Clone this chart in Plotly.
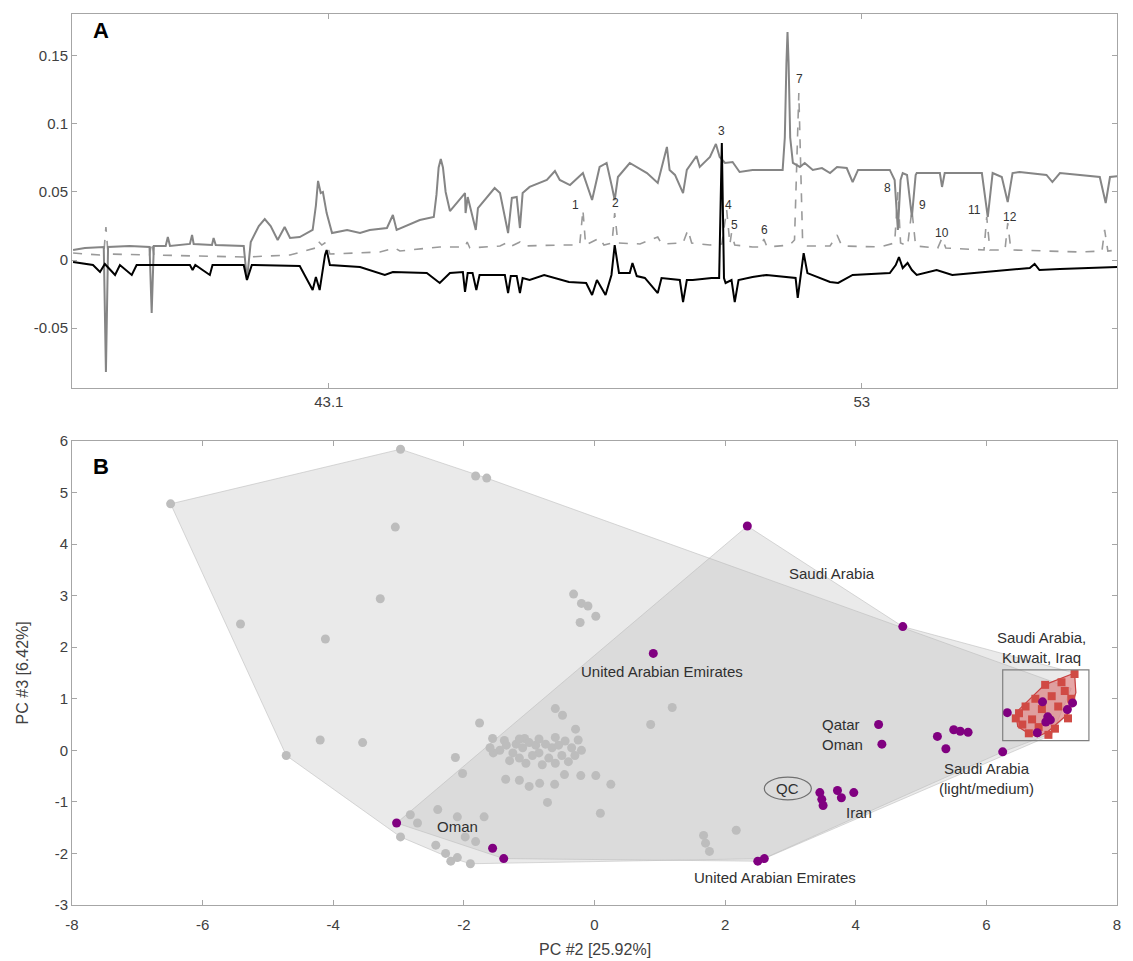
import plotly.graph_objects as go

# ---------------- Panel A: spectra ----------------
# mean spectrum (solid grey)
mean_x = [38.35, 38.57, 38.92, 38.96, 39.00, 39.40, 39.77, 39.81, 39.85, 40.07, 40.11, 40.15,
          40.52, 40.56, 40.59, 40.93, 40.96, 41.00, 41.52, 41.58, 41.65, 41.80, 41.91, 42.02,
          42.15, 42.28, 42.38, 42.56, 42.80, 42.86, 42.90, 42.95, 42.99, 43.06, 43.16, 43.44,
          43.68, 43.86, 44.18, 44.29, 44.36, 44.79, 45.05, 45.10, 45.14, 45.18, 45.22, 45.27,
          45.35, 45.57, 45.63, 45.64, 45.68, 45.83, 45.87, 46.18, 46.28, 46.43, 46.50, 46.59,
          46.65, 46.70, 46.83, 47.15, 47.30, 47.39, 47.58, 47.82, 47.99, 48.13, 48.26, 48.36,
          48.41, 48.47, 48.69, 49.01, 49.21, 49.38, 49.43, 49.53, 49.68, 49.75, 49.93, 49.99,
          50.18, 50.29, 50.36, 50.46, 50.60, 50.73, 50.97, 51.53, 51.57, 51.60, 51.62, 51.64,
          51.67, 51.72, 51.85, 51.94, 52.09, 52.26, 52.41, 52.54, 52.72, 52.83, 52.93, 53.52,
          53.61, 53.67, 53.72, 53.76, 53.84, 53.93, 54.00, 54.02, 54.45, 54.49, 54.54, 55.23,
          55.34, 55.43, 55.60, 55.71, 55.80, 55.93, 56.43, 56.54, 56.68, 57.42, 57.53, 57.61,
          57.76]
mean_y = [0.0074, 0.0088, 0.0096, -0.0823, 0.0096, 0.0103, 0.0096, -0.0390, 0.0103, 0.0103, 0.0169, 0.0103,
          0.0118, 0.0184, 0.0118, 0.0110, 0.0162, 0.0110, 0.0103, -0.0147, 0.0132, 0.0250, 0.0301, 0.0250,
          0.0147, 0.0243, 0.0162, 0.0169, 0.0221, 0.0400, 0.0581, 0.0492, 0.0500, 0.0345, 0.0198, 0.0221,
          0.0198, 0.0221, 0.0235, 0.0331, 0.0221, 0.0294, 0.0316, 0.0480, 0.0680, 0.0742, 0.0680, 0.0500,
          0.0360, 0.0463, 0.0492, 0.0345, 0.0463, 0.0221, 0.0382, 0.0529, 0.0492, 0.0198, 0.0456, 0.0463,
          0.0235, 0.0492, 0.0537, 0.0588, 0.0654, 0.0588, 0.0551, 0.0639, 0.0441, 0.0684, 0.0713, 0.0537,
          0.0441, 0.0610, 0.0713, 0.0639, 0.0566, 0.0831, 0.0662, 0.0625, 0.0492, 0.0662, 0.0764, 0.0684,
          0.0757, 0.0853, 0.0757, 0.0713, 0.0720, 0.0647, 0.0662, 0.0662, 0.0900, 0.1450, 0.1676, 0.1450,
          0.0900, 0.0713, 0.0684, 0.0713, 0.0662, 0.0676, 0.0639, 0.0684, 0.0676, 0.0573, 0.0662, 0.0662,
          0.0588, 0.0221, 0.0588, 0.0639, 0.0625, 0.0316, 0.0625, 0.0639, 0.0639, 0.0537, 0.0639, 0.0639,
          0.0316, 0.0639, 0.0610, 0.0426, 0.0639, 0.0647, 0.0625, 0.0573, 0.0639, 0.0610, 0.0419, 0.0610,
          0.0617]

# loadings (dashed grey)
load_x = [38.35, 38.85, 38.92, 38.96, 39.00, 39.77, 39.81, 39.85, 40.70, 41.58, 42.38, 42.85,
          42.90, 42.97, 43.05, 43.12, 44.05, 44.33, 44.42, 45.16, 45.63, 45.67, 45.72, 46.28,
          46.43, 46.50, 46.65, 46.72, 47.39, 47.76, 47.82, 47.87, 48.13, 48.21, 48.36, 48.41,
          48.47, 48.88, 49.21, 49.28, 49.68, 49.77, 49.84, 50.18, 50.40, 50.49, 50.55, 50.58,
          50.64, 50.97, 51.13, 51.18, 51.24, 51.66, 51.75, 51.83, 51.90, 51.99, 52.41, 52.54,
          52.63, 53.33, 53.61, 53.67, 53.72, 53.85, 53.93, 54.00, 54.41, 54.49, 54.56, 55.27,
          55.32, 55.38, 55.66, 55.71, 55.77, 57.05, 57.46, 57.51, 57.57, 57.76]
load_y = [0.0051, 0.0037, 0.0044, 0.0243, 0.0044, 0.0037, 0.0132, 0.0037, 0.0029, 0.0022, 0.0037, 0.0088,
          0.0140, 0.0110, 0.0132, 0.0044, 0.0059, 0.0088, 0.0066, 0.0096, 0.0096, 0.0132, 0.0088, 0.0103,
          0.0132, 0.0103, 0.0132, 0.0103, 0.0110, 0.0110, 0.0368, 0.0110, 0.0162, 0.0110, 0.0125, 0.0345,
          0.0125, 0.0118, 0.0169, 0.0118, 0.0125, 0.0221, 0.0125, 0.0110, 0.0118, 0.0368, 0.0118, 0.0198,
          0.0110, 0.0096, 0.0096, 0.0154, 0.0096, 0.0110, 0.0147, 0.1228, 0.0147, 0.0103, 0.0103, 0.0184,
          0.0103, 0.0096, 0.0125, 0.0500, 0.0125, 0.0103, 0.0368, 0.0103, 0.0088, 0.0162, 0.0088, 0.0074,
          0.0316, 0.0074, 0.0074, 0.0272, 0.0074, 0.0059, 0.0066, 0.0221, 0.0066, 0.0074]

# regression vector (solid black)
reg_x = [38.35, 38.48, 38.72, 38.85, 38.94, 39.13, 39.22, 39.44, 39.53, 40.52, 40.57, 40.62,
         40.89, 40.94, 41.52, 41.58, 41.67, 42.56, 42.80, 42.86, 42.93, 43.03, 43.06, 43.12,
         43.68, 44.14, 44.29, 44.92, 45.16, 45.35, 45.59, 45.63, 45.68, 45.77, 45.84, 45.90,
         46.00, 46.37, 46.43, 46.48, 46.59, 46.65, 46.70, 46.83, 47.10, 47.56, 47.88, 47.99,
         48.08, 48.24, 48.35, 48.41, 48.49, 48.69, 48.74, 48.82, 48.97, 49.21, 49.28, 49.62,
         49.68, 49.75, 49.86, 50.21, 50.35, 50.40, 50.44, 50.47, 50.58, 50.64, 50.71, 50.97,
         51.23, 51.59, 51.77, 51.81, 51.86, 51.92, 51.99, 52.41, 52.56, 52.83, 53.52, 53.63,
         53.69, 53.76, 53.85, 53.93, 54.02, 54.39, 54.68, 55.80, 56.12, 56.21, 56.30, 56.68,
         57.76]
reg_y = [-0.0015, -0.0022, -0.0037, -0.0088, -0.0029, -0.0110, -0.0037, -0.0110, -0.0037, -0.0037, -0.0074, -0.0037,
         -0.0110, -0.0037, -0.0037, -0.0147, -0.0037, -0.0044, -0.0221, -0.0125, -0.0221, 0.0037, 0.0074, -0.0037,
         -0.0051, -0.0110, -0.0088, -0.0096, -0.0169, -0.0096, -0.0088, -0.0235, -0.0096, -0.0096, -0.0221, -0.0110,
         -0.0110, -0.0110, -0.0243, -0.0118, -0.0118, -0.0243, -0.0132, -0.0147, -0.0110, -0.0162, -0.0169, -0.0257,
         -0.0147, -0.0257, -0.0110, 0.0110, -0.0096, -0.0096, -0.0022, -0.0118, -0.0132, -0.0243, -0.0132, -0.0147,
         -0.0309, -0.0147, -0.0147, -0.0132, -0.0132, 0.0860, -0.0132, -0.0169, -0.0147, -0.0309, -0.0147, -0.0125,
         -0.0110, -0.0125, -0.0132, -0.0279, -0.0110, 0.0051, -0.0096, -0.0162, -0.0169, -0.0110, -0.0096, -0.0037,
         0.0022, -0.0059, -0.0022, -0.0074, -0.0110, -0.0074, -0.0110, -0.0074, -0.0059, -0.0029, -0.0074, -0.0066,
         -0.0051]

peak_labels = ["1", "2", "3", "4", "5", "6", "7", "8", "9", "10", "11", "12"]
peak_lx = [47.69, 48.43, 50.40, 50.53, 50.64, 51.20, 51.85, 53.48, 54.13, 54.49, 55.10, 55.75]
peak_ly = [0.0404, 0.0419, 0.0948, 0.0404, 0.0257, 0.0221, 0.1330, 0.0529, 0.0404, 0.0198, 0.0368, 0.0316]

a_xticks = [43.1, 53]
a_xticktext = ["43.1", "53"]
a_yticks = [-0.05, 0, 0.05, 0.1, 0.15]
a_yticktext = ["-0.05", "0", "0.05", "0.1", "0.15"]

# ---------------- Panel B: PCA scores ----------------
other_pc2 = [-6.49, -2.97, -1.82, -1.65, -3.05, -3.28, -5.42, -4.12, -0.32, -0.20, -0.10, 0.02,
             -0.22, -1.76, -4.20, -3.55, -4.72, 0.86, 1.19, -0.60, -0.49, -0.29, -1.56, -1.38,
             -1.07, -2.13, -2.02,
             -1.45, -1.35, -1.25, -1.20, -1.10, -1.00, -0.90, -0.85, -0.75, -0.65, -0.55, -0.45,
             -0.35, -0.30, -0.50, -0.70, -0.95, -1.15, -1.30, -1.05, -0.80, -0.60, -0.40, -1.55,
             -1.60, -0.20, -0.25, -0.85, -1.15, -0.60,
             -1.36, -1.15, -1.00, -0.84, -0.61, -0.46, -0.21, 0.02, 0.25, -0.72, 0.09,
             -2.40, -2.10, -1.69, -2.82, -2.71, -2.97, -2.43, -2.28, -1.98, -1.82,
             1.67, 1.70, 1.76, 2.17, -2.20, -1.90, -2.10]
other_pc3 = [4.78, 5.84, 5.32, 5.28, 4.33, 2.94, 2.45, 2.16, 3.03, 2.85, 2.80, 2.60,
             2.48, 0.53, 0.20, 0.15, -0.10, 0.50, 0.83, 0.81, 0.68, 0.41, 0.23, 0.19,
             0.23, -0.14, -0.45,
             0.00, 0.10, -0.05, 0.12, 0.05, 0.15, 0.10, -0.05, 0.12, 0.05, 0.10, 0.18,
             0.05, -0.10, -0.10, -0.15, -0.10, -0.15, -0.20, -0.25, -0.28, -0.25, -0.22, -0.05,
             0.05, 0.00, 0.20, 0.22, 0.22, 0.25,
             -0.56, -0.58, -0.70, -0.64, -0.66, -0.47, -0.49, -0.49, -0.66, -1.01, -1.22,
             -1.15, -1.29, -1.29, -1.25, -1.41, -1.68, -1.84, -2.00, -1.68, -1.77,
             -1.65, -1.80, -1.96, -1.55, -2.15, -2.20, -2.08]

me_pc2 = [0.90, 2.34, 4.72, 4.35, 4.40, 5.25, 5.38, 5.50, 5.60, 5.72, 6.25,
          3.45, 3.48, 3.50, 3.72, 3.78, 3.97, 2.50, 2.60, -3.03, -1.56, -1.39,
          6.32, 6.86, 7.32, 7.24, 6.94, 6.98, 6.91, 6.78]
me_pc3 = [1.88, 4.35, 2.40, 0.50, 0.12, 0.27, 0.03, 0.40, 0.37, 0.35, -0.03,
          -0.82, -0.95, -1.07, -0.78, -0.92, -0.82, -2.15, -2.10, -1.41, -1.90, -2.10,
          0.73, 0.94, 0.92, 0.79, 0.65, 0.59, 0.55, 0.34]

ref_pc2 = [7.35, 7.15, 6.90, 7.20, 7.00, 6.75, 7.30, 6.60, 6.85, 7.10, 6.50, 6.70, 7.25,
           6.55, 6.80, 7.05, 6.65, 6.95, 6.45]
ref_pc3 = [1.48, 1.32, 1.27, 1.15, 1.05, 1.00, 1.00, 0.85, 0.80, 0.85, 0.72, 0.60, 0.62,
           0.50, 0.45, 0.42, 0.33, 0.30, 0.62]

hull_all_pc2 = [-6.49, -2.97, -1.65, 7.30, 7.00, 2.60, -1.90, -2.28, -2.97, -4.72]
hull_all_pc3 = [4.78, 5.84, 5.28, 1.20, 0.30, -2.10, -2.20, -2.05, -1.68, -0.10]
hull_me_pc2 = [2.34, 4.72, 7.35, 7.37, 7.27, 6.94, 6.25, 2.60, 2.50, -1.39, -3.03]
hull_me_pc3 = [4.35, 2.40, 1.50, 1.12, 0.73, 0.30, -0.03, -2.10, -2.15, -2.10, -1.41]
hull_ref_pc2 = [7.35, 6.89, 6.45, 6.48, 6.63, 6.78, 6.94, 7.27, 7.37]
hull_ref_pc3 = [1.50, 1.27, 0.73, 0.46, 0.34, 0.26, 0.36, 0.73, 1.12]

region_text = ["Saudi Arabia", "Saudi Arabia,<br>Kuwait, Iraq", "United Arabian Emirates",
               "Qatar", "Oman", "Saudi Arabia<br>(light/medium)", "Iran", "Oman",
               "United Arabian Emirates"]
region_x = [3.64, 6.85, 1.04, 3.78, 3.80, 6.00, 4.05, -2.10, 2.76]
region_y = [3.42, 2.00, 1.52, 0.50, 0.12, -0.55, -1.20, -1.47, -2.47]

b_ticks_x = [-8, -6, -4, -2, 0, 2, 4, 6, 8]
b_ticks_y = [-3, -2, -1, 0, 1, 2, 3, 4, 5, 6]

FONT = "Liberation Sans, Arial, Helvetica, sans-serif"
AXIS_GREY = "#a6a6a6"
TEXT_GREY = "#404040"
TICK_FONT = dict(family=FONT, size=15, color=TEXT_GREY)

fig = go.Figure()

# spectra
fig.add_trace(go.Scatter(x=load_x, y=load_y, mode="lines", xaxis="x", yaxis="y",
                         line=dict(color="#9a9a9a", width=1.6, dash="dash")))
fig.add_trace(go.Scatter(x=mean_x, y=mean_y, mode="lines", xaxis="x", yaxis="y",
                         line=dict(color="#858585", width=2)))
fig.add_trace(go.Scatter(x=reg_x, y=reg_y, mode="lines", xaxis="x", yaxis="y",
                         line=dict(color="#000000", width=2)))
for t, px_, py_ in zip(peak_labels, peak_lx, peak_ly):
    fig.add_annotation(x=px_, y=py_, xref="x", yref="y", text=t, showarrow=False,
                       font=dict(family=FONT, size=12, color="#333333"))

# score plot: group hulls, samples, labels
hull_fill = "rgba(185,185,185,0.30)"
hull_line = dict(color="rgba(185,185,185,0.55)", width=1)
fig.add_trace(go.Scatter(x=hull_all_pc2 + hull_all_pc2[:1], y=hull_all_pc3 + hull_all_pc3[:1],
                         xaxis="x2", yaxis="y2", mode="lines", fill="toself",
                         fillcolor=hull_fill, line=hull_line))
fig.add_trace(go.Scatter(x=hull_me_pc2 + hull_me_pc2[:1], y=hull_me_pc3 + hull_me_pc3[:1],
                         xaxis="x2", yaxis="y2", mode="lines", fill="toself",
                         fillcolor=hull_fill, line=hull_line))
fig.add_trace(go.Scatter(x=other_pc2, y=other_pc3, mode="markers", xaxis="x2", yaxis="y2",
                         marker=dict(color="#bdbdbd", size=9, line=dict(width=0))))
fig.add_trace(go.Scatter(x=hull_ref_pc2 + hull_ref_pc2[:1], y=hull_ref_pc3 + hull_ref_pc3[:1],
                         xaxis="x2", yaxis="y2", mode="lines", fill="toself",
                         fillcolor="rgba(225,110,110,0.55)", line=dict(color="#c94040", width=1.2)))
fig.add_trace(go.Scatter(x=ref_pc2, y=ref_pc3, mode="markers", xaxis="x2", yaxis="y2",
                         marker=dict(color="#d04a44", size=8, symbol="square", line=dict(width=0))))
fig.add_trace(go.Scatter(x=me_pc2, y=me_pc3, mode="markers", xaxis="x2", yaxis="y2",
                         marker=dict(color="#800080", size=9, line=dict(width=0))))
for t, px_, py_ in zip(region_text, region_x, region_y):
    fig.add_annotation(x=px_, y=py_, xref="x2", yref="y2", text=t, showarrow=False,
                       font=dict(family=FONT, size=15, color="#303030"))

# QC marker and box around the reference group
fig.add_shape(type="circle", x0=2.6, x1=3.32, y0=-0.96, y1=-0.52, xref="x2", yref="y2",
              line=dict(color="#707070", width=1.2), fillcolor="rgba(0,0,0,0)")
fig.add_annotation(x=2.96, y=-0.74, xref="x2", yref="y2", text="QC", showarrow=False,
                   font=dict(family=FONT, size=15, color="#303030"))
fig.add_shape(type="rect", x0=6.25, x1=7.57, y0=0.19, y1=1.56, xref="x2", yref="y2",
              line=dict(color="#808080", width=1.2))

common = dict(showline=True, linecolor=AXIS_GREY, linewidth=1, mirror="ticks",
              ticks="inside", ticklen=5, tickcolor=AXIS_GREY, showgrid=False, zeroline=False,
              tickfont=TICK_FONT, automargin=False)

fig.update_layout(
    width=1133, height=961, showlegend=False, plot_bgcolor="white", paper_bgcolor="white",
    margin=dict(l=72, r=16, t=14, b=56),
    xaxis=dict(domain=[0, 1], anchor="y", range=[38.33, 57.74], tickvals=a_xticks,
               ticktext=a_xticktext, **common),
    yaxis=dict(domain=[0.5802, 1], anchor="x", range=[-0.0941, 0.1808], tickvals=a_yticks,
               ticktext=a_yticktext, **common),
    xaxis2=dict(domain=[0, 1], anchor="y2", range=[-8, 8], tickvals=b_ticks_x,
                ticktext=[str(v) for v in b_ticks_x], ticklabelstandoff=6, **common),
    yaxis2=dict(domain=[0, 0.5208], anchor="x2", range=[-3, 6], tickvals=b_ticks_y,
                ticktext=[str(v) for v in b_ticks_y], **common),
)

# axis titles of the score plot
fig.add_annotation(x=0.5, y=-0.0505, xref="paper", yref="paper", text="PC #2 [25.92%]",
                   showarrow=False, xanchor="center", yanchor="middle",
                   font=dict(family=FONT, size=16, color=TEXT_GREY))
fig.add_annotation(x=-0.0478, y=0.26, xref="paper", yref="paper", text="PC #3 [6.42%]",
                   showarrow=False, textangle=-90, xanchor="center", yanchor="middle",
                   font=dict(family=FONT, size=16, color=TEXT_GREY))

fig.add_annotation(x=0.018, y=0.998, xref="paper", yref="paper", text="<b>A</b>", showarrow=False,
                   xanchor="left", yanchor="top", font=dict(family=FONT, size=22, color="#000"))
fig.add_annotation(x=0.018, y=0.508, xref="paper", yref="paper", text="<b>B</b>", showarrow=False,
                   xanchor="left", yanchor="top", font=dict(family=FONT, size=22, color="#000"))

fig.write_html("out.html")
